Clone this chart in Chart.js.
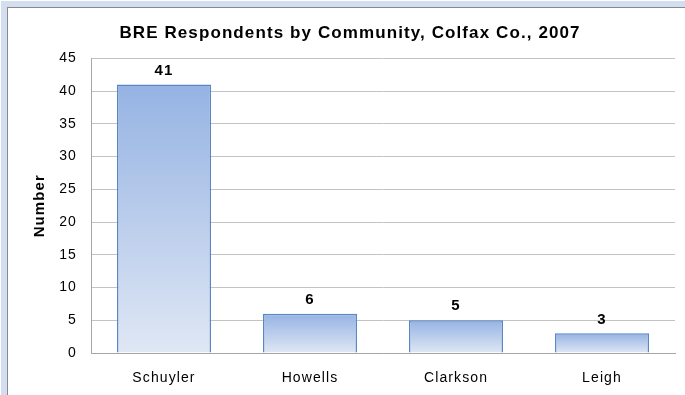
<!DOCTYPE html>
<html>
<head>
<meta charset="utf-8">
<script src="https://cdn.jsdelivr.net/npm/chart.js@4.4.0/dist/chart.umd.min.js"></script>
<style>
    body { margin: 0; background: #fff; }
    #frame { position: absolute; left: 1px; top: 1px; width: 684px; height: 394px; background: #d3def0; }
    #inner { position: absolute; left: 6px; top: 6px; width: 677px; height: 387px; background: #fff;
             border-left: 1px solid #8a8a8a; border-top: 1px solid #8a8a8a; }
    canvas { display: block; }
</style>
</head>
<body>
<div id="frame"><div id="inner"><canvas id="chart" width="677" height="387"></canvas></div></div>
<script>
const communities = ["Schuyler", "Howells", "Clarkson", "Leigh"];
const respondents = [41, 6, 5, 3];
const yTicks = [0, 5, 10, 15, 20, 25, 30, 35, 40, 45];

const FONT = "'Liberation Sans', Arial, sans-serif";

// gradient per bar: blue at the top, pale at the base
function barGradient(context) {
    const chart = context.chart;
    const area = chart.chartArea;
    if (!area) return "#b4c7e8";
    const top = chart.scales.y.getPixelForValue(context.raw);
    const g = chart.ctx.createLinearGradient(0, top, 0, area.bottom);
    g.addColorStop(0, "#95b3e3");
    g.addColorStop(1, "#dfe7f4");
    return g;
}

// the original text is set a bit wider than Arial
const wideText = {
    id: "wideText",
    beforeDraw(chart) { chart.ctx.letterSpacing = "1.1px"; }
};

// value labels above each bar
const valueLabels = {
    id: "valueLabels",
    afterDatasetsDraw(chart) {
        const ctx = chart.ctx;
        const meta = chart.getDatasetMeta(0);
        ctx.save();
        ctx.font = "bold 15px " + FONT;
        ctx.fillStyle = "#000";
        ctx.textAlign = "center";
        ctx.textBaseline = "middle";
        meta.data.forEach((bar, i) => {
            ctx.fillText(respondents[i], bar.x, bar.y - 14);
        });
        ctx.restore();
    }
};

new Chart(document.getElementById("chart"), {
    type: "bar",
    data: {
        labels: communities,
        datasets: [{
            data: respondents,
            backgroundColor: barGradient,
            borderColor: "#5b86c6",
            borderWidth: 1.5,
            barPercentage: 0.8,
            categoryPercentage: 0.805
        }]
    },
    options: {
        responsive: false,
        animation: false,
        layout: { padding: { left: 17, right: 10, top: 0, bottom: 0 } },
        plugins: {
            legend: { display: false },
            tooltip: { enabled: false },
            title: {
                display: true,
                text: "BRE Respondents by Community, Colfax Co., 2007",
                color: "#000",
                font: { family: FONT, size: 17, weight: "bold" },
                padding: { top: 15, bottom: 15 }
            }
        },
        scales: {
            x: {
                grid: { display: false, drawTicks: false },
                border: { color: "#a6a6a6" },
                ticks: { color: "#000", font: { family: FONT, size: 14 }, padding: 17 },
                afterFit(scale) { scale.height = 42; }
            },
            y: {
                min: 0,
                max: 45,
                afterBuildTicks(scale) { scale.ticks = yTicks.map(v => ({ value: v })); },
                grid: { color: "#c3c3c3", drawTicks: false },
                border: { color: "#a6a6a6" },
                ticks: { color: "#000", font: { family: FONT, size: 14 }, padding: 14 },
                title: {
                    display: true,
                    text: "Number",
                    color: "#000",
                    font: { family: FONT, size: 15, weight: "bold" },
                    padding: { top: 6, bottom: 0 }
                },
                afterFit(scale) { scale.width = 66; }
            }
        }
    },
    plugins: [wideText, valueLabels]
});
</script>
</body>
</html>
